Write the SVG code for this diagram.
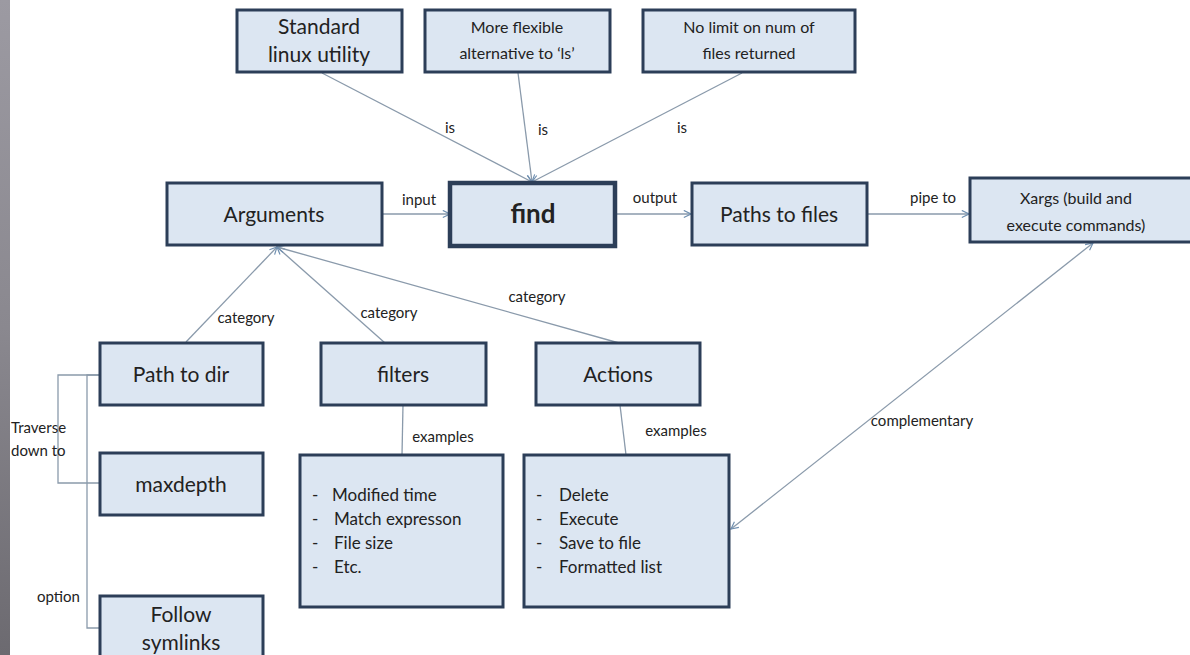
<svg xmlns="http://www.w3.org/2000/svg" width="1190" height="655" viewBox="0 0 1190 655">
<defs>
<linearGradient id="strip" x1="0" y1="0" x2="0" y2="1">
<stop offset="0" stop-color="#9c9aa2"/>
<stop offset="0.5" stop-color="#8a888f"/>
<stop offset="1" stop-color="#6c6a70"/>
</linearGradient>
<marker id="arr" viewBox="0 0 10 10" refX="9" refY="5" markerWidth="9" markerHeight="9" orient="auto-start-reverse" markerUnits="userSpaceOnUse">
<path d="M1,1 L9,5 L1,9" fill="none" stroke="#6f8fb0" stroke-width="1.3"/>
</marker>
</defs>
<style>
.box{fill:#dce6f2;stroke:#2c3e58;stroke-width:3}
.bold{stroke-width:4.5}
.t{font-family:Lato,"Open Sans",sans-serif;fill:#222;text-anchor:middle}
.n{font-size:21px}
.s{font-size:16px}
.l{font-family:Lato,"Open Sans",sans-serif;fill:#222;font-size:15px}
.li{font-family:Lato,"Open Sans",sans-serif;fill:#222;font-size:17px}
.c{fill:none;stroke:#8a9aab;stroke-width:1.3}
</style>
<rect x="0" y="0" width="1190" height="655" fill="#ffffff"/>
<rect x="0" y="0" width="10" height="655" fill="url(#strip)"/>

<g id="connectors">
<line class="c" x1="322" y1="73" x2="532" y2="182" marker-end="url(#arr)"/>
<line class="c" x1="518" y1="73" x2="532" y2="182" marker-end="url(#arr)"/>
<line class="c" x1="742" y1="73" x2="532" y2="182" marker-end="url(#arr)"/>
<line class="c" x1="383" y1="214" x2="450" y2="214" marker-end="url(#arr)"/>
<line class="c" x1="616" y1="214" x2="691" y2="214" marker-end="url(#arr)"/>
<line class="c" x1="868" y1="214" x2="969" y2="214" marker-end="url(#arr)"/>
<line class="c" x1="186" y1="342" x2="277" y2="247" marker-end="url(#arr)"/>
<line class="c" x1="385" y1="343" x2="277" y2="247" marker-end="url(#arr)"/>
<line class="c" x1="619" y1="343" x2="277" y2="247" marker-end="url(#arr)"/>
<line class="c" x1="403" y1="405" x2="402" y2="455"/>
<line class="c" x1="620" y1="405" x2="626" y2="455"/>
<line class="c" x1="731" y1="529" x2="1093" y2="243" marker-start="url(#arr)" marker-end="url(#arr)"/>
<polyline class="c" points="100,375 58,375 58,483 100,483"/>
<polyline class="c" points="100,375 87,375 87,628 100,628"/>
<text class="l" x="450" y="133" text-anchor="middle">is</text>
<text class="l" x="543" y="135" text-anchor="middle">is</text>
<text class="l" x="682" y="133" text-anchor="middle">is</text>
<text class="l" x="419" y="205" text-anchor="middle">input</text>
<text class="l" x="655" y="203" text-anchor="middle">output</text>
<text class="l" x="933" y="203" text-anchor="middle">pipe to</text>
<text class="l" x="246" y="323" text-anchor="middle">category</text>
<text class="l" x="389" y="318" text-anchor="middle">category</text>
<text class="l" x="537" y="302" text-anchor="middle">category</text>
<text class="l" x="443" y="442" text-anchor="middle">examples</text>
<text class="l" x="676" y="436" text-anchor="middle">examples</text>
<text class="l" x="922" y="426" text-anchor="middle">complementary</text>
<text class="l" x="11" y="433">Traverse</text>
<text class="l" x="11" y="456">down to</text>
<text class="l" x="37" y="602">option</text>
</g>

<g id="standard">
<rect class="box" x="237" y="10" width="165" height="62"/>
<text class="t n" x="319" y="34">Standard</text>
<text class="t n" x="319" y="62">linux utility</text>
</g>
<g id="flexible">
<rect class="box" x="425" y="10" width="185" height="62"/>
<text class="t s" x="517" y="33">More flexible</text>
<text class="t s" x="517" y="59">alternative to ‘ls’</text>
</g>
<g id="nolimit">
<rect class="box" x="643" y="10" width="212" height="62"/>
<text class="t s" x="749" y="33">No limit on num of</text>
<text class="t s" x="749" y="59">files returned</text>
</g>
<g id="arguments">
<rect class="box" x="167" y="183" width="215" height="62"/>
<text class="t n" x="274" y="222">Arguments</text>
</g>
<g id="find">
<rect class="box bold" x="450" y="183" width="165" height="63"/>
<text class="t" x="533" y="223" font-size="26" font-weight="bold">find</text>
</g>
<g id="paths">
<rect class="box" x="692" y="183" width="175" height="62"/>
<text class="t n" x="779" y="222">Paths to files</text>
</g>
<g id="xargs">
<rect class="box" x="970" y="178" width="225" height="64"/>
<text class="t s" x="1076" y="204">Xargs (build and</text>
<text class="t s" x="1076" y="231">execute commands)</text>
</g>
<g id="pathdir">
<rect class="box" x="100" y="343" width="163" height="62"/>
<text class="t n" x="181" y="382">Path to dir</text>
</g>
<g id="filters">
<rect class="box" x="321" y="343" width="165" height="62"/>
<text class="t n" x="403" y="382">filters</text>
</g>
<g id="actions">
<rect class="box" x="536" y="343" width="164" height="62"/>
<text class="t n" x="618" y="382">Actions</text>
</g>
<g id="maxdepth">
<rect class="box" x="100" y="453" width="163" height="62"/>
<text class="t n" x="181" y="492">maxdepth</text>
</g>
<g id="symlinks">
<rect class="box" x="100" y="596" width="163" height="70"/>
<text class="t n" x="181" y="622">Follow</text>
<text class="t n" x="181" y="650">symlinks</text>
</g>
<g id="filterexamples">
<rect class="box" x="300" y="455" width="203" height="152"/>
<text class="li" x="312" y="501">-</text><text class="li" x="332" y="501">Modified time</text>
<text class="li" x="312" y="525">-</text><text class="li" x="334" y="525">Match expresson</text>
<text class="li" x="312" y="549">-</text><text class="li" x="334" y="549">File size</text>
<text class="li" x="312" y="573">-</text><text class="li" x="334" y="573">Etc.</text>
</g>
<g id="actionexamples">
<rect class="box" x="524" y="455" width="205" height="152"/>
<text class="li" x="536" y="501">-</text><text class="li" x="559" y="501">Delete</text>
<text class="li" x="536" y="525">-</text><text class="li" x="559" y="525">Execute</text>
<text class="li" x="536" y="549">-</text><text class="li" x="559" y="549">Save to file</text>
<text class="li" x="536" y="573">-</text><text class="li" x="559" y="573">Formatted  list</text>
</g>
</svg>
